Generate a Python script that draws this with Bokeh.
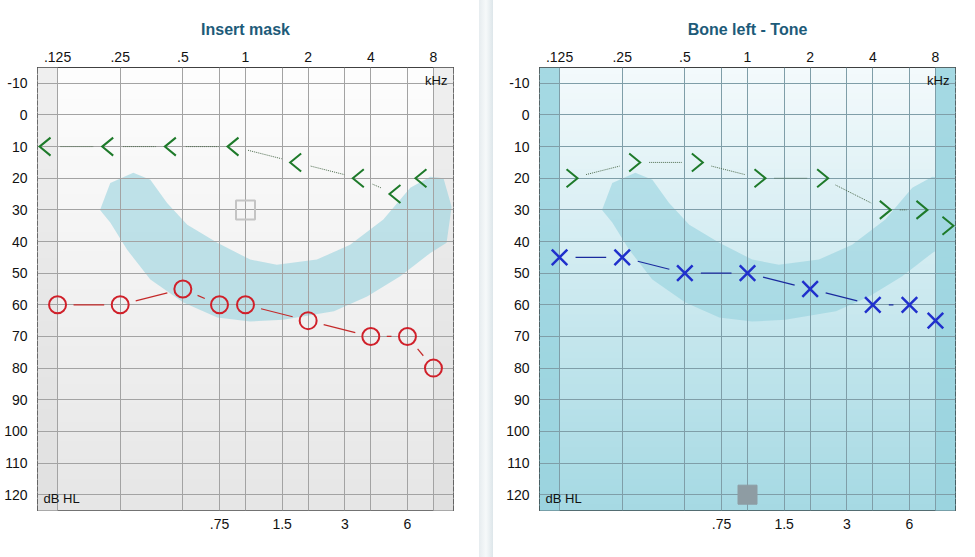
import numpy as np
from bokeh.plotting import figure
from bokeh.models import Range1d, FixedTicker, LinearAxis, Label, Div
from bokeh.layouts import row
from bokeh.embed import file_html
from bokeh.resources import INLINE

# ---------------- data ----------------
oct_freqs = [0.125, 0.25, 0.5, 1, 2, 4, 8]
oct_labels = [".125", ".25", ".5", "1", "2", "4", "8"]
mid_freqs = [0.75, 1.5, 3, 6]
mid_labels = [".75", "1.5", "3", "6"]
db_ticks = [-10, 0, 10, 20, 30, 40, 50, 60, 70, 80, 90, 100, 110, 120]
db_labels = ["-10", "0", "10", "20", "30", "40", "50", "60", "70", "80", "90", "100", "110", "120"]

left_title = "Insert mask"
left_mask_freq = [0.125, 0.25, 0.5, 1, 2, 4, 6, 8]
left_mask_db = [10, 10, 10, 10, 15, 20, 25, 20]
left_air_freq = [0.125, 0.25, 0.5, 0.75, 1, 2, 4, 6, 8]
left_air_db = [60, 60, 55, 60, 60, 65, 70, 70, 80]
left_box_freq = [1]
left_box_db = [30]

right_title = "Bone left - Tone"
right_mask_freq = [0.125, 0.25, 0.5, 1, 2, 4, 6, 8]
right_mask_db = [20, 15, 15, 20, 20, 30, 30, 35]
right_bone_freq = [0.125, 0.25, 0.5, 1, 2, 4, 6, 8]
right_bone_db = [45, 45, 50, 50, 55, 60, 60, 65]
right_box_freq = [1]
right_box_db = [120]

# speech area ("banana") outline, kHz / dB HL
banana_freq = [0.200, 0.224, 0.289, 0.349, 0.420, 0.525, 0.732, 1.053, 1.414,
               2.204, 3.182, 4.595, 6.19, 7.73, 8.94, 9.78, 9.25, 7.73,
               5.54, 3.84, 2.66, 1.516, 1.053, 0.732, 0.503, 0.349, 0.270, 0.224]
banana_db = [30, 21.5, 18.3, 20.5, 27.8, 34.7, 40.4, 45.7, 47.3,
             45.7, 41, 33, 23, 19.5, 20, 29, 40.4, 43.6,
             51, 57.4, 62, 64.7, 65.3, 64, 59.3, 52, 42.6, 34]

# ---------------- geometry / style ----------------
X0, X1 = -3.32, 3.32
Y_TOP, Y_BOT = -15, 125
FRAME_W, FRAME_H = 416, 443
PXX = FRAME_W / (X1 - X0)
PXY = FRAME_H / (Y_BOT - Y_TOP)
FONT = "Liberation Sans"


def hex2rgb(h):
    h = h.lstrip("#")
    return [int(h[i:i + 2], 16) for i in (0, 2, 4)]


def lerp(c1, c2, t):
    a, b = hex2rgb(c1), hex2rgb(c2)
    return "#%02x%02x%02x" % tuple(int(round(a[i] + (b[i] - a[i]) * t)) for i in range(3))


def gaps(xs, ys, gap_px):
    x0s, y0s, x1s, y1s = [], [], [], []
    for i in range(len(xs) - 1):
        dx = (xs[i + 1] - xs[i]) * PXX
        dy = (ys[i + 1] - ys[i]) * PXY
        d = (dx * dx + dy * dy) ** 0.5
        if d <= 2 * gap_px + 1:
            continue
        t = gap_px / d
        x0s.append(xs[i] + (xs[i + 1] - xs[i]) * t)
        y0s.append(ys[i] + (ys[i + 1] - ys[i]) * t)
        x1s.append(xs[i + 1] - (xs[i + 1] - xs[i]) * t)
        y1s.append(ys[i + 1] - (ys[i + 1] - ys[i]) * t)
    return x0s, y0s, x1s, y1s


def make_panel(title, width, bl, br, bg_top, bg_bot, band_top, band_bot, grid_col,
               bands_over_banana):
    p = figure(width=width, height=557, x_range=Range1d(X0, X1), y_range=Range1d(Y_BOT, Y_TOP),
               output_backend="svg", toolbar_location=None, x_axis_location="above",
               min_border_left=bl, min_border_right=br, min_border_top=67, min_border_bottom=47,
               background_fill_color=bg_top, border_fill_color="white")
    p.outline_line_color = "black"
    p.outline_line_width = 1

    # title
    p.title.text = title
    p.title.align = "center"
    p.title.text_font = FONT
    p.title.text_font_size = "16px"
    p.title.text_font_style = "bold"
    p.title.text_color = "#1d5b79"
    p.title.standoff = 22

    # gradient background
    n = 70
    edges = np.linspace(Y_TOP, Y_BOT, n + 1)
    tops = edges[:-1]
    bots = edges[1:] + 0.4
    cols = [lerp(bg_top, bg_bot, (i + 0.5) / n) for i in range(n)]
    bcols = [lerp(band_top, band_bot, (i + 0.5) / n) for i in range(n)]
    p.quad(left=X0, right=X1, top=tops, bottom=bots, fill_color=cols,
           line_color=None, level="image")

    def bands():
        lo, hi = np.log2(oct_freqs[0]), np.log2(oct_freqs[-1])
        p.quad(left=X0, right=lo, top=tops, bottom=bots, fill_color=bcols,
               line_color=None, level="image")
        p.quad(left=hi, right=X1, top=tops, bottom=bots, fill_color=bcols,
               line_color=None, level="image")

    def banana():
        p.patch(np.log2(banana_freq), banana_db, fill_color="#8fd0dc", fill_alpha=0.55,
                line_color=None, level="image")

    if bands_over_banana:
        banana(); bands()
    else:
        bands(); banana()

    # axes
    ax = p.xaxis[0]
    ax.ticker = FixedTicker(ticks=[float(np.log2(f)) for f in oct_freqs])
    ax.major_label_overrides = {float(np.log2(f)): l for f, l in zip(oct_freqs, oct_labels)}
    bx = LinearAxis(ticker=FixedTicker(ticks=[float(np.log2(f)) for f in mid_freqs]))
    bx.major_label_overrides = {float(np.log2(f)): l for f, l in zip(mid_freqs, mid_labels)}
    p.add_layout(bx, "below")
    ya = p.yaxis[0]
    ya.ticker = FixedTicker(ticks=db_ticks)
    ya.major_label_overrides = {t: l for t, l in zip(db_ticks, db_labels)}
    for a in (ax, bx, ya):
        a.axis_line_color = None
        a.major_tick_line_color = None
        a.minor_tick_line_color = None
        a.major_tick_out = 0
        a.major_tick_in = 0
        a.minor_tick_out = 0
        a.minor_tick_in = 0
        a.major_label_text_font = FONT
        a.major_label_text_font_size = "14px"
        a.major_label_text_color = "#111111"
    ax.major_label_standoff = 6
    bx.major_label_standoff = 8
    ya.major_label_standoff = 10

    p.xgrid.ticker = FixedTicker(ticks=sorted(float(np.log2(f)) for f in oct_freqs + mid_freqs))
    p.ygrid.ticker = FixedTicker(ticks=db_ticks)
    p.xgrid.grid_line_color = grid_col
    p.ygrid.grid_line_color = grid_col
    p.xgrid.grid_line_alpha = 1
    p.ygrid.grid_line_alpha = 1

    p.add_layout(Label(x=X1 - 6 / PXX, y=Y_TOP + 13 / PXY, text="kHz", text_align="right",
                       text_baseline="middle", text_font=FONT, text_font_size="13px",
                       text_color="#111111"))
    p.add_layout(Label(x=X0 + 6 / PXX, y=Y_TOP + 431 / PXY, text="dB HL", text_align="left",
                       text_baseline="middle", text_font=FONT, text_font_size="13px",
                       text_color="#111111"))
    return p


def chevrons(p, freqs, dbs, d, gap_px=15):
    lx = np.log2(freqs)
    ax = lx + d * 12 / PXX
    tip = ax + d * 6 / PXX
    arm = ax - d * 5 / PXX
    dy = 9 / PXY
    x0s, y0s, x1s, y1s = gaps(list(ax), list(dbs), gap_px)
    p.segment(x0s, y0s, x1s, y1s, line_color="#4d6b4d", line_width=1, line_dash="1 1")
    p.multi_line([[a, t, a] for a, t in zip(arm, tip)],
                 [[y - dy, y, y + dy] for y in dbs],
                 line_color="#1e7a2a", line_width=2, line_join="miter")


# ---------------- left panel ----------------
p1 = make_panel(left_title, 479, 37, 26, "#fdfdfd", "#e6e6e6", "#efefef", "#e0e0e0",
                "#a3a3a3", False)
chevrons(p1, left_mask_freq, left_mask_db, -1)
lx = list(np.log2(left_air_freq))
x0s, y0s, x1s, y1s = gaps(lx, left_air_db, 16)
p1.segment(x0s, y0s, x1s, y1s, line_color="#c42a2a", line_width=1.2)
p1.scatter(lx, left_air_db, marker="circle", size=17, fill_color=None,
           line_color="#d0202a", line_width=2)
p1.scatter(np.log2(left_box_freq), left_box_db, marker="square", size=19, fill_color=None,
           line_color="#c4c4c4", line_width=2)

# ---------------- right panel ----------------
p2 = make_panel(right_title, 482, 46, 20, "#f4fafc", "#a5d9e3", "#a5d9e3", "#9bd4df",
                "#7f9ea8", True)
chevrons(p2, right_mask_freq, right_mask_db, 1)
rx = list(np.log2(right_bone_freq))
x0s, y0s, x1s, y1s = gaps(rx, right_bone_db, 16)
p2.segment(x0s, y0s, x1s, y1s, line_color="#1a2a9e", line_width=1.2)
p2.scatter(rx, right_bone_db, marker="x", size=22, line_color="#2030cc", line_width=2.5)
p2.scatter(np.log2(right_box_freq), right_box_db, marker="square", size=19,
           fill_color="#8e9ca3", line_color="#8e9ca3")

divider = Div(width=14, height=557, margin=0, styles={
    "background": "linear-gradient(to right, #e6ecef, #f6f9fa 50%, #dde6ea)",
    "width": "14px", "height": "557px"})

layout = row(p1, divider, p2, spacing=0)
open("out.html", "w").write(file_html(layout, INLINE))
